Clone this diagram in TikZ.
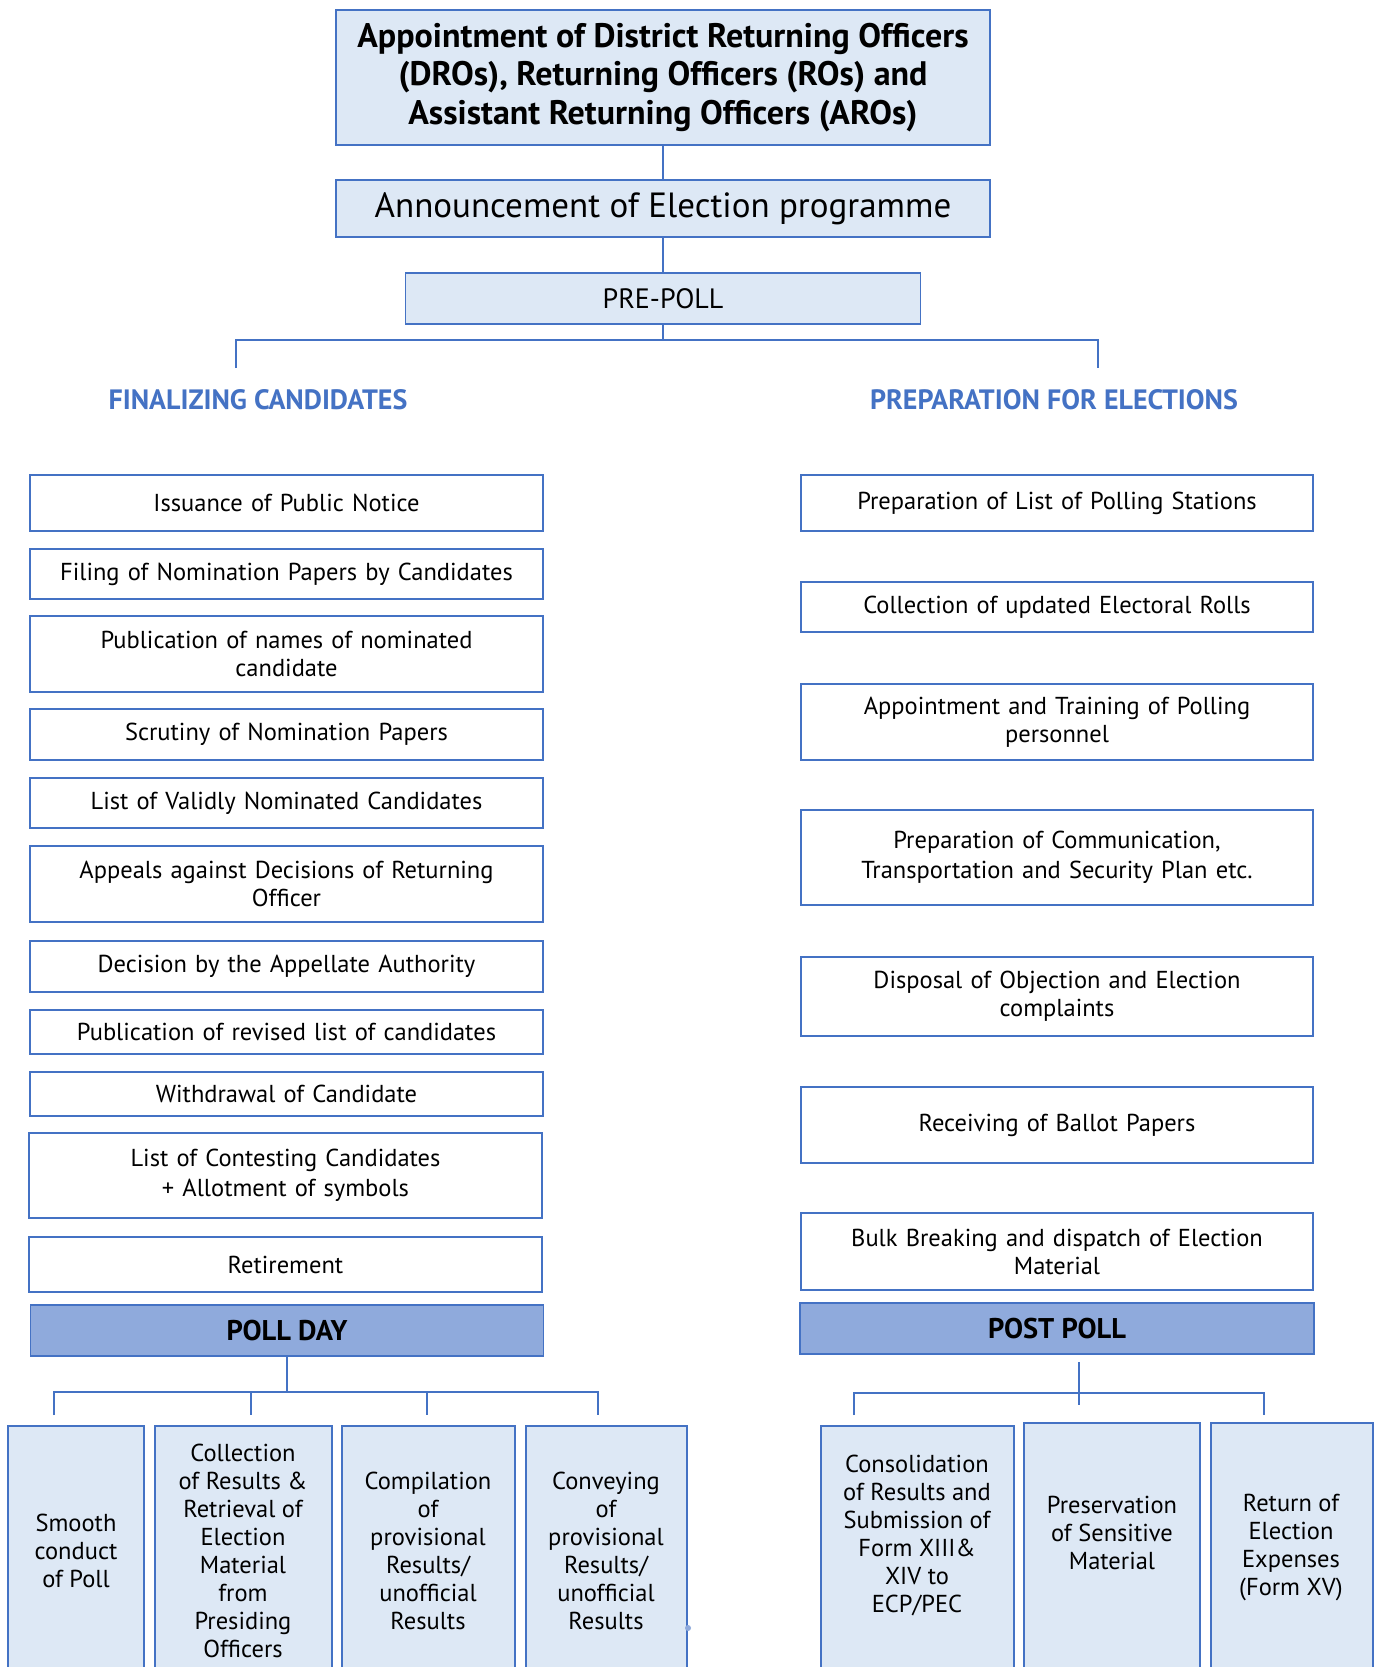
\documentclass[tikz,border=0pt]{standalone}
\usepackage{fontspec}
\setmainfont{PT Sans}
\definecolor{bord}{HTML}{4472C4}
\definecolor{lite}{HTML}{DDE8F5}
\definecolor{dark}{HTML}{8FAADC}
\newcommand\fsz[2]{\fontsize{#1}{#2}\selectfont}
\begin{document}
\begin{tikzpicture}[x=1pt,y=-1pt,
  base/.style={draw=bord, line width=1.5pt, inner sep=0pt, outer sep=0pt, align=center},
  wbox/.style={base, fill=white, font=\fsz{24.5}{28}, text width=500pt},
  lbox/.style={base, fill=lite},
  dbox/.style={base, fill=dark, font=\fsz{28.5}{32}\bfseries},
  btxt/.style={inner sep=0pt, align=center, font=\fsz{24.5}{28}},
  hdr/.style={inner sep=0pt, text=bord, font=\fsz{28}{32}\bfseries},
  conn/.style={draw=bord, line width=1.8pt}]
\useasboundingbox (0,0) rectangle (1379,1667);
\fill[white] (0,0) rectangle (1379,1667);

% top
\node[lbox, minimum width=654pt, minimum height=135pt, font=\fsz{34}{38.5}\bfseries] (top) at (663,77.5)
  {\rule{0pt}{6pt}Appointment of District Returning Officers\\(DROs), Returning Officers (ROs) and\\Assistant Returning Officers (AROs)\rule[-6pt]{0pt}{6pt}};
\node[lbox, minimum width=654pt, minimum height=57pt, font=\fsz{35}{38}] (ann) at (663,208.5) {Announcement of Election programme};
\node[lbox, minimum width=515pt, minimum height=51pt, font=\fsz{28}{30}] (pre) at (663,298.5) {PRE-POLL};

\coordinate (preJ) at (663,340);
\coordinate (lJ) at (236,340);
\coordinate (rJ) at (1098,340);
\coordinate (lE) at (236,368);
\coordinate (rE) at (1098,368);
\draw[conn] (top.south) -- (ann.north);
\draw[conn] (ann.south) -- (pre.north);
\draw[conn] (pre.south) -- (preJ);
\draw[conn] (lE) -- (lJ) -- (rJ) -- (rE);

\node[hdr] (hl) at (258,400) {FINALIZING CANDIDATES};
\node[hdr] (hr) at (1054,400) {PREPARATION FOR ELECTIONS};

% left column
\node[wbox, minimum width=513pt, minimum height=56pt] (l1) at (286.5,503) {Issuance of Public Notice};
\node[wbox, minimum width=513pt, minimum height=50pt] (l2) at (286.5,574) {Filing of Nomination Papers by Candidates};
\node[wbox, minimum width=513pt, minimum height=76pt] (l3) at (286.5,654) {Publication of names of nominated\\candidate};
\node[wbox, minimum width=513pt, minimum height=51pt] (l4) at (286.5,734.5) {Scrutiny of Nomination Papers};
\node[wbox, minimum width=513pt, minimum height=50pt] (l5) at (286.5,803) {List of Validly Nominated Candidates};
\node[wbox, minimum width=513pt, minimum height=76pt] (l6) at (286.5,884) {Appeals against Decisions of Returning\\Officer};
\node[wbox, minimum width=513pt, minimum height=51pt] (l7) at (286.5,966.5) {Decision by the Appellate Authority};
\node[wbox, minimum width=513pt, minimum height=44pt] (l8) at (286.5,1032) {Publication of revised list of candidates};
\node[wbox, minimum width=513pt, minimum height=44pt] (l9) at (286.5,1094) {Withdrawal of Candidate};
\node[wbox, minimum width=513pt, minimum height=85pt, font=\fsz{24.5}{30}] (l10) at (285.5,1175.5) {List of Contesting Candidates\\+ Allotment of symbols};
\node[wbox, minimum width=513pt, minimum height=55pt] (l11) at (285.5,1264.5) {Retirement};
\node[dbox, minimum width=513pt, minimum height=51pt] (poll) at (287,1330.5) {POLL DAY};

% right column
\node[wbox, minimum width=512pt, minimum height=56pt] (r1) at (1057,503) {Preparation of List of Polling Stations};
\node[wbox, minimum width=512pt, minimum height=50pt] (r2) at (1057,607) {Collection of updated Electoral Rolls};
\node[wbox, minimum width=512pt, minimum height=76pt] (r3) at (1057,722) {Appointment and Training of Polling\\personnel};
\node[wbox, minimum width=512pt, minimum height=95pt, font=\fsz{24.5}{30}] (r4) at (1057,857.5) {Preparation of Communication,\\Transportation and Security Plan etc.};
\node[wbox, minimum width=512pt, minimum height=79pt] (r5) at (1057,996.5) {Disposal of Objection and Election\\complaints};
\node[wbox, minimum width=512pt, minimum height=76pt] (r6) at (1057,1125) {Receiving of Ballot Papers};
\node[wbox, minimum width=512pt, minimum height=77pt] (r7) at (1057,1251.5) {Bulk Breaking and dispatch of Election\\Material};
\node[dbox, minimum width=514pt, minimum height=51pt] (post) at (1057,1328.5) {POST POLL};

% poll day branches
\coordinate (pJ) at (287,1392);
\coordinate (pa) at (54,1392);
\coordinate (pd) at (598,1392);
\coordinate (pb) at (251,1392);
\coordinate (pc) at (427,1392);
\coordinate (pae) at (54,1415);
\coordinate (pbe) at (251,1415);
\coordinate (pce) at (427,1415);
\coordinate (pde) at (598,1415);
\draw[conn] (poll.south) -- (pJ);
\draw[conn] (pae) -- (pa) -- (pd) -- (pde);
\draw[conn] (pb) -- (pbe);
\draw[conn] (pc) -- (pce);

% post poll branches
\coordinate (qS) at (1079,1362);
\coordinate (qE) at (1079,1405);
\coordinate (qa) at (854,1393);
\coordinate (qc) at (1264,1393);
\coordinate (qae) at (854,1415);
\coordinate (qce) at (1264,1415);
\draw[conn] (qS) -- (qE);
\draw[conn] (qae) -- (qa) -- (qc) -- (qce);

% bottom boxes
\begin{scope}
\clip (0,0) rectangle (1379,1667);
\node[lbox, anchor=north west, minimum width=136pt, minimum height=260pt] (ba) at (8,1426) {};
\node[lbox, anchor=north west, minimum width=177pt, minimum height=260pt] (bb) at (155,1426) {};
\node[lbox, anchor=north west, minimum width=173pt, minimum height=260pt] (bc) at (342,1426) {};
\node[lbox, anchor=north west, minimum width=161pt, minimum height=260pt] (bd) at (526,1426) {};
\node[lbox, anchor=north west, minimum width=193pt, minimum height=260pt] (be) at (821,1426) {};
\node[lbox, anchor=north west, minimum width=176pt, minimum height=260pt] (bf) at (1024,1423) {};
\node[lbox, anchor=north west, minimum width=162pt, minimum height=260pt] (bg) at (1211,1423) {};
\end{scope}
\fill[bord!60] (688,1628) circle (3pt);

\node[btxt] (ta) at (76,1551) {Smooth\\conduct\\of Poll};
\node[btxt] (tb) at (243,1551) {Collection\\of Results \&\\Retrieval of\\Election\\Material\\from\\Presiding\\Officers};
\node[btxt] (tc) at (428,1551) {Compilation\\of\\provisional\\Results/\\unofficial\\Results};
\node[btxt] (td) at (606,1551) {Conveying\\of\\provisional\\Results/\\unofficial\\Results};
\node[btxt] (te) at (917,1535) {Consolidation\\of Results and\\Submission of\\Form XIII\&\\XIV to\\ECP/PEC};
\node[btxt] (tf) at (1112,1533) {Preservation\\of Sensitive\\Material};
\node[btxt] (tg) at (1291,1548) {Return of\\Election\\Expenses\\(Form XV)};
\end{tikzpicture}
\end{document}
